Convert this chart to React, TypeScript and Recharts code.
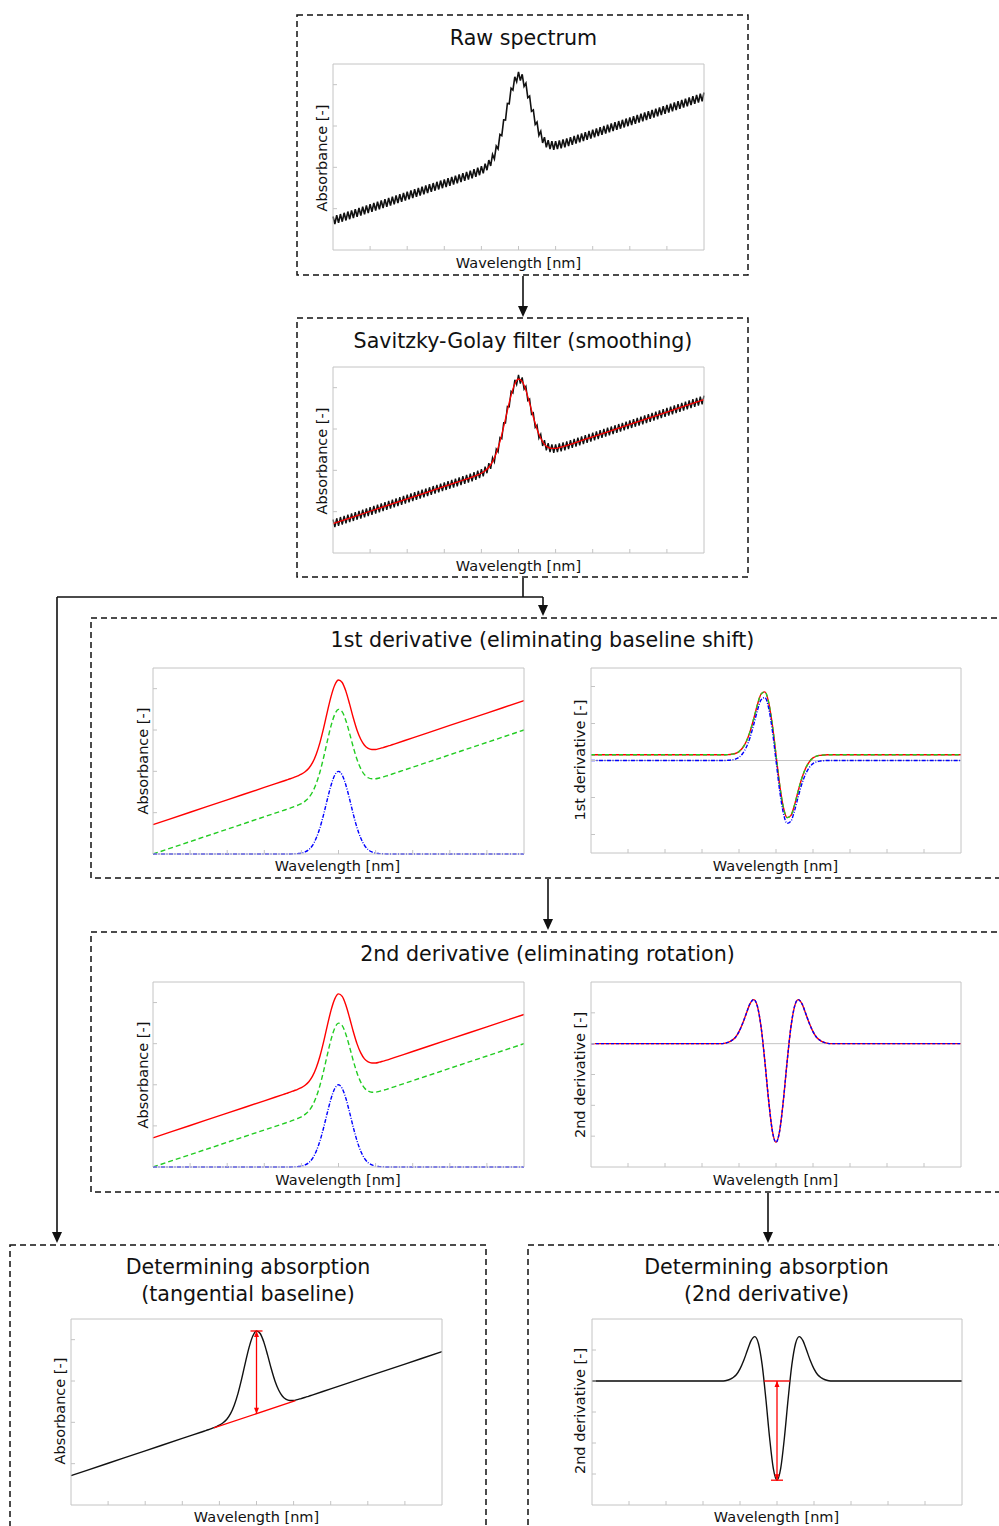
import { LineChart, Line, XAxis, YAxis, ReferenceLine } from "recharts";

const FONT = '"DejaVu Sans", Verdana, sans-serif';
const FRAME = "#c4c4c4";
const INK = "#111111";
const RED = "#ff0000";
const GREEN = "#22cc22";
const BLUE = "#0000ff";
const PAD = 3;

// wavelength grid for the smooth curves (arbitrary units, peak in the middle)
const wl = [
  0, 10, 20, 30, 35, 36, 37, 38, 39, 40, 41, 42, 43, 44, 45, 46, 47, 48, 49, 50,
  51, 52, 53, 54, 55, 56, 57, 58, 59, 60, 61, 62, 63, 64, 65, 70, 80, 90, 100,
];

// absorbance: sloped baseline + peak (red), shifted down (green), peak only (blue)
const absRed = [
  1.42, 2.02, 2.62, 3.22, 3.52, 3.58, 3.64, 3.71, 3.78, 3.86, 3.98, 4.15, 4.42, 4.83, 5.39,
  6.1, 6.89, 7.63, 8.18, 8.42, 8.3, 7.87, 7.25, 6.58, 5.99, 5.55, 5.26, 5.11, 5.06, 5.06,
  5.1, 5.15, 5.2, 5.26, 5.32, 5.62, 6.22, 6.82, 7.42,
];
const absGreen = [
  0, 0.6, 1.2, 1.8, 2.1, 2.16, 2.22, 2.29, 2.36, 2.44, 2.56, 2.73, 3.0, 3.41, 3.97,
  4.68, 5.47, 6.21, 6.76, 7.0, 6.88, 6.45, 5.83, 5.16, 4.57, 4.13, 3.84, 3.69, 3.64, 3.64,
  3.68, 3.73, 3.78, 3.84, 3.9, 4.2, 4.8, 5.4, 6.0,
];
const absBlue = [
  0, 0, 0, 0, 0, 0, 0, 0.01, 0.02, 0.04, 0.1, 0.21, 0.42, 0.77, 1.27,
  1.92, 2.65, 3.33, 3.82, 4.0, 3.82, 3.33, 2.65, 1.92, 1.27, 0.77, 0.42, 0.21, 0.1, 0.04,
  0.02, 0.01, 0, 0, 0, 0, 0, 0, 0,
];

// 1st derivative: red/green share the same curve (offset by the slope), blue has none
const d1Shift = [
  0.31, 0.31, 0.31, 0.31, 0.31, 0.31, 0.32, 0.34, 0.38, 0.48, 0.69, 1.04, 1.57, 2.27, 3.03,
  3.6, 3.71, 3.16, 1.95, 0.31, -1.33, -2.54, -3.09, -2.98, -2.41, -1.65, -0.95, -0.42, -0.07, 0.14,
  0.24, 0.28, 0.3, 0.31, 0.31, 0.31, 0.31, 0.31, 0.31,
];
const d1Blue = [
  0, 0, 0, 0, 0, 0, 0.01, 0.03, 0.07, 0.17, 0.38, 0.73, 1.26, 1.96, 2.72,
  3.29, 3.4, 2.85, 1.64, 0, -1.64, -2.85, -3.4, -3.29, -2.72, -1.96, -1.26, -0.73, -0.38, -0.17,
  -0.07, -0.03, -0.01, 0, 0, 0, 0, 0, 0,
];

// 2nd derivative (all three spectra collapse onto this)
const d2 = [
  0, 0, 0, 0, 0, 0.01, 0.04, 0.1, 0.2, 0.39, 0.66, 0.99, 1.3, 1.43, 1.2,
  0.51, -0.59, -1.83, -2.82, -3.2, -2.82, -1.83, -0.59, 0.51, 1.2, 1.43, 1.3, 0.99, 0.66, 0.39,
  0.2, 0.1, 0.04, 0.01, 0, 0, 0, 0, 0,
];

// raw noisy spectrum, sampled every 0.5
const rawStep = 0.5;
const raw = [
  1.62, 1.25, 1.68, 1.31, 1.74, 1.37, 1.8, 1.43, 1.86, 1.49,
  1.92, 1.55, 1.98, 1.61, 2.04, 1.67, 2.1, 1.73, 2.16, 1.79,
  2.22, 1.85, 2.28, 1.91, 2.34, 1.97, 2.4, 2.03, 2.46, 2.09,
  2.52, 2.15, 2.58, 2.21, 2.64, 2.27, 2.7, 2.33, 2.76, 2.39,
  2.82, 2.45, 2.88, 2.51, 2.94, 2.57, 3.0, 2.63, 3.06, 2.69,
  3.12, 2.75, 3.18, 2.81, 3.24, 2.87, 3.3, 2.93, 3.36, 2.99,
  3.42, 3.05, 3.48, 3.11, 3.54, 3.17, 3.6, 3.23, 3.66, 3.29,
  3.72, 3.35, 3.78, 3.41, 3.84, 3.47, 3.91, 3.54, 3.98, 3.62,
  4.06, 3.71, 4.18, 3.86, 4.35, 4.07, 4.62, 4.4, 5.03, 4.89,
  5.59, 5.53, 6.3, 6.29, 7.09, 7.07, 7.83, 7.74, 8.38, 8.14,
  8.62, 8.2, 8.5, 7.92, 8.07, 7.37, 7.45, 6.71, 6.78, 6.07,
  6.19, 5.55, 5.75, 5.18, 5.46, 4.97, 5.31, 4.88, 5.26, 4.85,
  5.26, 4.88, 5.3, 4.92, 5.35, 4.97, 5.4, 5.03, 5.46, 5.09,
  5.52, 5.15, 5.58, 5.21, 5.64, 5.27, 5.7, 5.33, 5.76, 5.39,
  5.82, 5.45, 5.88, 5.51, 5.94, 5.57, 6.0, 5.63, 6.06, 5.69,
  6.12, 5.75, 6.18, 5.81, 6.24, 5.87, 6.3, 5.93, 6.36, 5.99,
  6.42, 6.05, 6.48, 6.11, 6.54, 6.17, 6.6, 6.23, 6.66, 6.29,
  6.72, 6.35, 6.78, 6.41, 6.84, 6.47, 6.9, 6.53, 6.96, 6.59,
  7.02, 6.65, 7.08, 6.71, 7.14, 6.77, 7.2, 6.83, 7.26, 6.89,
  7.32, 6.95, 7.38, 7.01, 7.44, 7.07, 7.5, 7.13, 7.56, 7.19,
  7.62,
];
const rawX = raw.map((_, i) => i * rawStep);

// zero line for the derivative plots
const zeroX = [0, 100];
const zeroY = [0, 0];

// annotations
const tangentX = [38.5, 60.5];
const tangentY = [3.73, 5.05];
const peakX = 50;
const peakBase = 4.42;
const peakTop = 8.42;
const d2CrossX = [46.5, 53.5];
const d2Min = -3.2;

// axis ticks
const xTicks = [10, 20, 30, 40, 50, 60, 70, 80, 90];
const absTicks = [1, 2, 3, 4, 5, 6, 7, 8];
const d1Ticks = [-4, -3, -2, -1, 0, 1, 2, 3, 4];
const d2Ticks = [-3, -2, -1, 0, 1];

type Trace = {
  xs: number[];
  ys: number[];
  color: string;
  width?: number;
  dash?: string;
  curve?: "monotone" | "linear";
};

const toRows = (xs: number[], ys: number[]) => xs.map((x, i) => ({ x, y: ys[i] }));
const noLabel = () => <g />;

function Arrow(props: any) {
  const { x1, y1, x2, y2 } = props;
  const dir = y2 > y1 ? 1 : -1;
  const hw = 2.5;
  const hl = 6;
  return (
    <g>
      <line x1={x1} y1={y1} x2={x2} y2={y2} stroke={RED} strokeWidth={1.3} />
      <polygon points={`${x1},${y1} ${x1 - hw},${y1 + dir * hl} ${x1 + hw},${y1 + dir * hl}`} fill={RED} />
      <polygon points={`${x2},${y2} ${x2 - hw},${y2 - dir * hl} ${x2 + hw},${y2 - dir * hl}`} fill={RED} />
      <line x1={x2 - 6} y1={y2} x2={x2 + 6} y2={y2} stroke={RED} strokeWidth={1.3} />
    </g>
  );
}

function Panel({
  box,
  yDomain,
  yTicks,
  traces,
  extras,
}: {
  box: [number, number, number, number];
  yDomain: [number, number];
  yTicks: number[];
  traces: Trace[];
  extras?: any;
}) {
  const [left, top, w, h] = box;
  const axisCommon = { stroke: FRAME, tickSize: 4, mirror: true, tick: noLabel };
  const m = PAD - 1;
  return (
    <div style={{ position: "absolute", left: left - PAD, top: top - PAD }}>
      <LineChart
        width={w + PAD * 2}
        height={h + PAD * 2}
        margin={{ top: m, right: m, bottom: m, left: m }}
      >
        <XAxis xAxisId="b" type="number" dataKey="x" domain={[0, 100]} ticks={xTicks} orientation="bottom" height={1} {...axisCommon} />
        <XAxis xAxisId="t" type="number" dataKey="x" domain={[0, 100]} ticks={xTicks} orientation="top" height={1} {...axisCommon} />
        <YAxis yAxisId="l" type="number" domain={yDomain} ticks={yTicks} orientation="left" width={1} {...axisCommon} />
        <YAxis yAxisId="r" type="number" domain={yDomain} ticks={yTicks} orientation="right" width={1} {...axisCommon} />
        {traces.map((t, i) => (
          <Line
            key={i}
            xAxisId="b"
            yAxisId="l"
            data={toRows(t.xs, t.ys)}
            dataKey="y"
            type={t.curve ?? "monotone"}
            stroke={t.color}
            strokeWidth={t.width ?? 1.4}
            strokeDasharray={t.dash}
            dot={false}
            activeDot={false}
            isAnimationActive={false}
          />
        ))}
        {extras}
      </LineChart>
    </div>
  );
}

function Text({ x, y, size, children, rotate }: { x: number; y: number; size: number; children: any; rotate?: boolean }) {
  return (
    <div
      style={{
        position: "absolute",
        left: x,
        top: y,
        transform: `translate(-50%, -50%)${rotate ? " rotate(-90deg)" : ""}`,
        whiteSpace: "nowrap",
        fontSize: size,
        color: INK,
        lineHeight: 1,
      }}
    >
      {children}
    </div>
  );
}

const TITLE = 20.6;
const LABEL = 14.5;

function Arrowhead({ x, tip }: { x: number; tip: number }) {
  return <polygon points={`${x},${tip} ${x - 5},${tip - 11} ${x + 5},${tip - 11}`} fill={INK} />;
}

function Flow() {
  const boxes: [number, number, number, number][] = [
    [297, 15, 451, 260],
    [297, 318, 451, 259],
    [91, 618, 915, 260],
    [91, 932, 915, 260],
    [10, 1245, 476, 300],
    [528, 1245, 480, 300],
  ];
  return (
    <svg width={999} height={1526} style={{ position: "absolute", left: 0, top: 0 }}>
      {boxes.map(([x, y, w, h], i) => (
        <rect key={i} x={x} y={y} width={w} height={h} fill="none" stroke={INK} strokeWidth={1.5} strokeDasharray="6 4" />
      ))}
      <g stroke={INK} strokeWidth={1.6} fill="none">
        <path d="M523 276 V308" />
        <path d="M523 578 V597 M57 597 H543 M543 597 V607 M57 597 V1234" />
        <path d="M548 879 V921" />
        <path d="M768 1193 V1234" />
      </g>
      <Arrowhead x={523} tip={317} />
      <Arrowhead x={543} tip={616} />
      <Arrowhead x={57} tip={1243} />
      <Arrowhead x={548} tip={930} />
      <Arrowhead x={768} tip={1243} />
    </svg>
  );
}

export default function App() {
  const zero: Trace = { xs: zeroX, ys: zeroY, color: FRAME, width: 1, curve: "linear" };
  return (
    <div
      style={{
        position: "absolute",
        left: 0,
        top: 0,
        width: 999,
        height: 1526,
        background: "#fff",
        overflow: "hidden",
        fontFamily: FONT,
      }}
    >
      <Flow />

      {/* Raw spectrum */}
      <Text x={523.5} y={37.5} size={TITLE}>Raw spectrum</Text>
      <Panel
        box={[334, 65, 369, 184]}
        yDomain={[0, 9]}
        yTicks={absTicks}
        traces={[{ xs: rawX, ys: raw, color: INK, width: 1.6, curve: "linear" }]}
      />
      <Text x={518.5} y={263} size={LABEL}>Wavelength [nm]</Text>
      <Text x={322} y={158} size={LABEL} rotate>Absorbance [-]</Text>

      {/* Savitzky-Golay */}
      <Text x={523} y={340.5} size={TITLE}>Savitzky-Golay filter (smoothing)</Text>
      <Panel
        box={[334, 368, 369, 184]}
        yDomain={[0, 9]}
        yTicks={absTicks}
        traces={[
          { xs: rawX, ys: raw, color: INK, width: 1.4, curve: "linear" },
          { xs: wl, ys: absRed, color: RED, width: 1.3 },
        ]}
      />
      <Text x={518.5} y={566} size={LABEL}>Wavelength [nm]</Text>
      <Text x={322} y={461} size={LABEL} rotate>Absorbance [-]</Text>

      {/* 1st derivative */}
      <Text x={542.5} y={640} size={TITLE}>1st derivative (eliminating baseline shift)</Text>
      <Panel
        box={[154, 669, 369, 184]}
        yDomain={[0, 9]}
        yTicks={absTicks}
        traces={[
          { xs: wl, ys: absRed, color: RED },
          { xs: wl, ys: absGreen, color: GREEN, dash: "5 3" },
          { xs: wl, ys: absBlue, color: BLUE, dash: "4 1.5 1 1.5" },
        ]}
      />
      <Text x={337.5} y={866} size={LABEL}>Wavelength [nm]</Text>
      <Text x={142.5} y={761} size={LABEL} rotate>Absorbance [-]</Text>
      <Panel
        box={[592, 669, 368, 183]}
        yDomain={[-5, 5]}
        yTicks={d1Ticks}
        traces={[
          zero,
          { xs: wl, ys: d1Shift, color: RED },
          { xs: wl, ys: d1Shift, color: GREEN, dash: "4 3" },
          { xs: wl, ys: d1Blue, color: BLUE, dash: "4 1.5 1 1.5" },
        ]}
      />
      <Text x={775.5} y={866} size={LABEL}>Wavelength [nm]</Text>
      <Text x={580} y={760} size={LABEL} rotate>1st derivative [-]</Text>

      {/* 2nd derivative */}
      <Text x={547.5} y={954} size={TITLE}>2nd derivative (eliminating rotation)</Text>
      <Panel
        box={[154, 983, 369, 183]}
        yDomain={[0, 9]}
        yTicks={absTicks}
        traces={[
          { xs: wl, ys: absRed, color: RED },
          { xs: wl, ys: absGreen, color: GREEN, dash: "5 3" },
          { xs: wl, ys: absBlue, color: BLUE, dash: "4 1.5 1 1.5" },
        ]}
      />
      <Text x={338} y={1180} size={LABEL}>Wavelength [nm]</Text>
      <Text x={143} y={1074.5} size={LABEL} rotate>Absorbance [-]</Text>
      <Panel
        box={[592, 983, 368, 183]}
        yDomain={[-4, 2]}
        yTicks={d2Ticks}
        traces={[
          zero,
          { xs: wl, ys: d2, color: RED },
          { xs: wl, ys: d2, color: BLUE, dash: "3 2" },
        ]}
      />
      <Text x={775.5} y={1180} size={LABEL}>Wavelength [nm]</Text>
      <Text x={580} y={1074.5} size={LABEL} rotate>2nd derivative [-]</Text>

      {/* Determining absorption: tangential baseline */}
      <Text x={248} y={1266.5} size={TITLE}>Determining absorption</Text>
      <Text x={248} y={1294} size={TITLE}>(tangential baseline)</Text>
      <Panel
        box={[72, 1320, 369, 184]}
        yDomain={[0, 9]}
        yTicks={absTicks}
        traces={[{ xs: wl, ys: absRed, color: INK }]}
        extras={[
          <ReferenceLine
            key="tan"
            xAxisId="b"
            yAxisId="l"
            segment={[
              { x: tangentX[0], y: tangentY[0] },
              { x: tangentX[1], y: tangentY[1] },
            ]}
            stroke={RED}
            strokeWidth={1.3}
          />,
          <ReferenceLine
            key="arr"
            xAxisId="b"
            yAxisId="l"
            segment={[
              { x: peakX, y: peakBase },
              { x: peakX, y: peakTop },
            ]}
            shape={(p: any) => <Arrow {...p} />}
          />,
        ]}
      />
      <Text x={256.5} y={1516.5} size={LABEL}>Wavelength [nm]</Text>
      <Text x={60} y={1411} size={LABEL} rotate>Absorbance [-]</Text>

      {/* Determining absorption: 2nd derivative */}
      <Text x={766.5} y={1266.5} size={TITLE}>Determining absorption</Text>
      <Text x={766.5} y={1294} size={TITLE}>(2nd derivative)</Text>
      <Panel
        box={[593, 1320, 368, 184]}
        yDomain={[-4, 2]}
        yTicks={d2Ticks}
        traces={[zero, { xs: wl, ys: d2, color: INK }]}
        extras={[
          <ReferenceLine
            key="cross"
            xAxisId="b"
            yAxisId="l"
            segment={[
              { x: d2CrossX[0], y: 0 },
              { x: d2CrossX[1], y: 0 },
            ]}
            stroke={RED}
            strokeWidth={1.3}
          />,
          <ReferenceLine
            key="arr"
            xAxisId="b"
            yAxisId="l"
            segment={[
              { x: peakX, y: 0 },
              { x: peakX, y: d2Min },
            ]}
            shape={(p: any) => <Arrow {...p} />}
          />,
        ]}
      />
      <Text x={776.5} y={1516.5} size={LABEL}>Wavelength [nm]</Text>
      <Text x={580} y={1411} size={LABEL} rotate>2nd derivative [-]</Text>
    </div>
  );
}
